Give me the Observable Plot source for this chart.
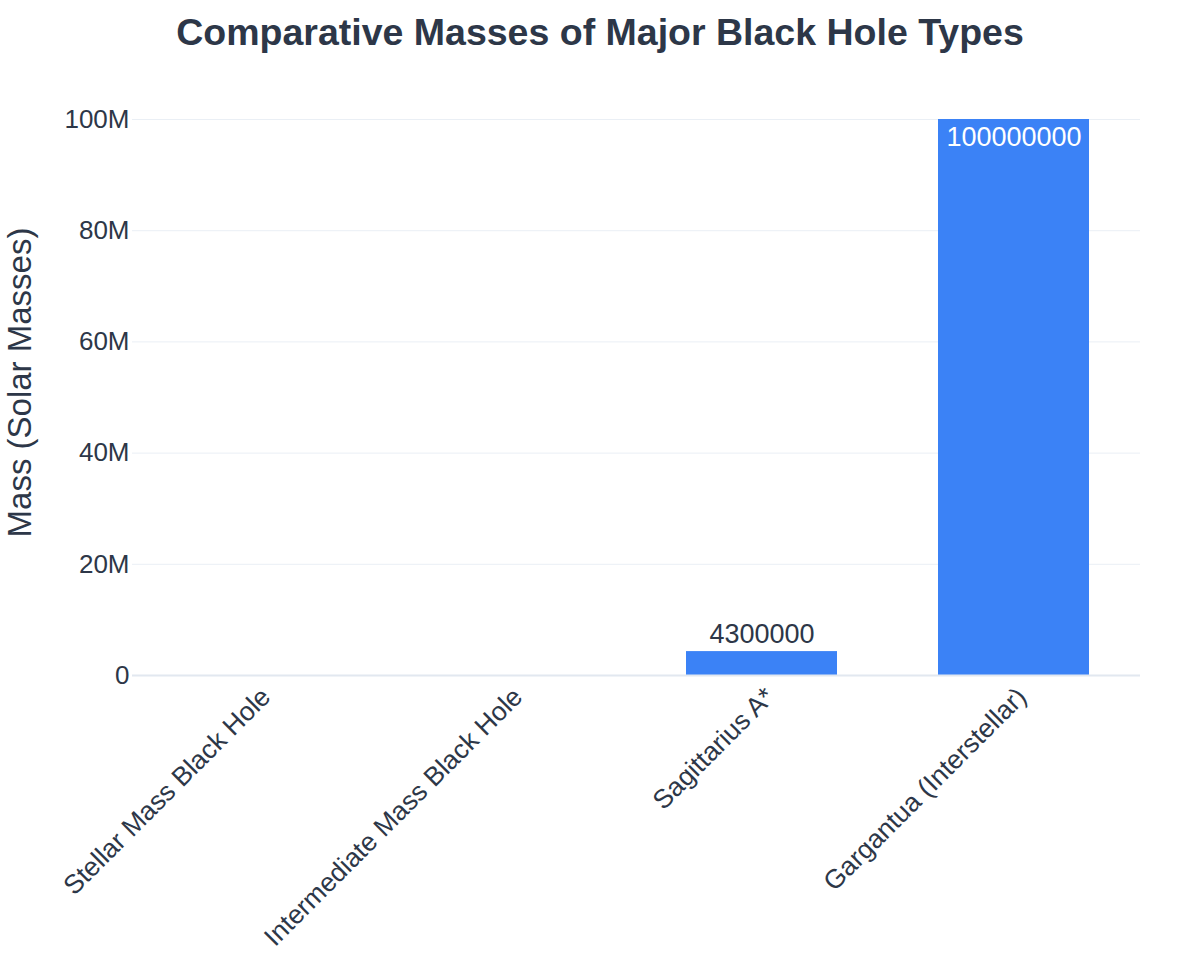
<!DOCTYPE html>
<html>
<head>
<meta charset="utf-8">
<script src="https://cdn.jsdelivr.net/npm/d3@7"></script>
<script src="https://cdn.jsdelivr.net/npm/@observablehq/plot@0.6"></script>
<style>
  body { margin: 0; background: #fff; font-family: "Liberation Sans", Arial, sans-serif; }
  #title { height: 70px; line-height: 64px; text-align: center; font-size: 37.5px; font-weight: bold; color: #2d3748; }
</style>
</head>
<body>
<div id="title">Comparative Masses of Major Black Hole Types</div>
<div id="chart"></div>
<script>
// Black hole categories and their masses, in solar masses
const categories = [
  "Stellar Mass Black Hole",
  "Intermediate Mass Black Hole",
  "Sagittarius A*",
  "Gargantua (Interstellar)"
];
const masses = [10, 1000, 4300000, 100000000];
const yTicks = [0, 20e6, 40e6, 60e6, 80e6, 100e6];
const yTitle = "Mass (Solar Masses)";

const rows = categories.map((name, i) => ({name, mass: masses[i]}));
// Tall bars carry their value inside, mid-sized ones above; tiny ones none
const inside = rows.filter(d => d.mass >= 50e6);
const outside = rows.filter(d => d.mass >= 1e6 && d.mass < 50e6);

const textColor = "#2d3748";
const barColor = "#3b82f6";

const chart = Plot.plot({
  width: 1200,
  height: 905,
  marginTop: 49,
  marginBottom: 300,
  marginLeft: 132,
  marginRight: 60,
  style: {fontFamily: "'Liberation Sans', Arial, sans-serif", fontSize: "26px", color: textColor, background: "#fff"},
  x: {domain: categories, paddingInner: 0.4, paddingOuter: 0.2, label: null},
  y: {domain: [0, 100e6], label: null},
  marks: [
    Plot.gridY(yTicks, {stroke: "#eaeff5", strokeOpacity: 1, strokeWidth: 1}),
    Plot.barY(rows, {x: "name", y: "mass", fill: barColor}),
    Plot.ruleY([0], {stroke: "#e2e8f0", strokeWidth: 2}),
    Plot.axisY({
      ticks: yTicks,
      tickSize: 0,
      tickPadding: 3,
      tickFormat: d => d === 0 ? "0" : (d / 1e6) + "M",
      fontSize: 26,
      label: null
    }),
    // y-axis title, rotated and centred along the left edge
    Plot.text([yTitle], {
      frameAnchor: "left",
      textAnchor: "middle",
      rotate: -90,
      dx: -112,
      dy: -15,
      fontSize: 33,
      fill: textColor
    }),
    Plot.axisX({
      tickSize: 0,
      tickPadding: 17,
      dx: 8,
      tickRotate: -45,
      fontSize: 26.5,
      label: null
    }),
    Plot.text(outside, {x: "name", y: "mass", text: d => String(d.mass), lineAnchor: "bottom", dy: -9, fill: textColor, fontSize: 27}),
    Plot.text(inside, {x: "name", y: "mass", text: d => String(d.mass), lineAnchor: "top", dy: 7, fill: "#ffffff", fontSize: 27})
  ]
});
document.getElementById("chart").appendChild(chart);
</script>
</body>
</html>
